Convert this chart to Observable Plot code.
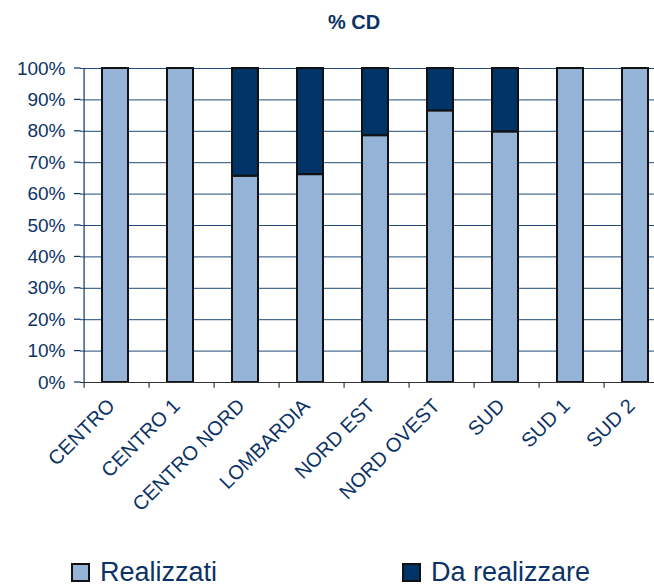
<!DOCTYPE html>
<html>
<head>
<meta charset="utf-8">
<script src="https://cdn.jsdelivr.net/npm/d3@7"></script>
<script src="https://cdn.jsdelivr.net/npm/@observablehq/plot@0.6"></script>
<style>
  html, body { margin: 0; padding: 0; background: #fff; }
  #wrap { position: relative; width: 654px; height: 586px; overflow: hidden; font-family: "Liberation Sans", Arial, sans-serif; color: #0b3366; }
  #title { position: absolute; left: 0; width: 708px; top: 11px; text-align: center; font-weight: bold; font-size: 20px; }
  #legend { position: absolute; top: 557px; left: 0; width: 654px; height: 31px; font-size: 27px; }
  .item { position: absolute; top: 0; display: flex; align-items: center; }
  .sw { width: 15px; height: 15px; border: 2px solid #111; margin-right: 10px; }
  #chart { position: absolute; left: 0; top: 0; }
</style>
</head>
<body>
<div id="wrap">
  <div id="chart"></div>
  <div id="title">% CD</div>
  <div id="legend"></div>
</div>
<script>
const categories = ["CENTRO", "CENTRO 1", "CENTRO NORD", "LOMBARDIA", "NORD EST", "NORD OVEST", "SUD", "SUD 1", "SUD 2"];
const realizzati = [100, 100, 65.7, 66.2, 78.6, 86.5, 79.8, 100, 100];
const daRealizzare = [0, 0, 34.3, 33.8, 21.4, 13.5, 20.2, 0, 0];
const seriesNames = ["Realizzati", "Da realizzare"];
const seriesColors = ["#95b3d7", "#003366"];
const yTicks = [0, 10, 20, 30, 40, 50, 60, 70, 80, 90, 100];

const navy = "#0b3366";
const rows = [];
categories.forEach((c, i) => {
  rows.push({cat: c, series: seriesNames[0], value: realizzati[i]});
  rows.push({cat: c, series: seriesNames[1], value: daRealizzare[i]});
});

const step = (671.4 - 79) / 9;

const chart = Plot.plot({
  width: 654,
  height: 540,
  marginLeft: 80,
  marginRight: 0,
  marginTop: 68,
  marginBottom: 158,
  style: {fontFamily: "'Liberation Sans', Arial, sans-serif", background: "transparent", overflow: "visible"},
  x: {domain: categories, range: [79, 671.4], paddingInner: 0.6, paddingOuter: 0.3, axis: null},
  y: {domain: [0, 100], axis: null},
  color: {domain: seriesNames, range: seriesColors},
  marks: [
    Plot.ruleY(yTicks, {stroke: "#1f4a7a", strokeWidth: 1}),
    Plot.barY(rows, Plot.stackY({x: "cat", y: "value", fill: "series", order: seriesNames, stroke: "#111", strokeWidth: 2})),
    Plot.ruleX([0], {x: () => categories[0], dx: -step / 2 + 1.5, y1: 0, y2: 100, stroke: navy, strokeWidth: 1.2}),
    Plot.ruleY([0], {stroke: "#333", strokeWidth: 1.2}),
    Plot.ruleX(categories, {x: d => d, dx: -step / 2 + 1.5, y1: 0, y2: -1.8, stroke: "#333", strokeWidth: 1.2}),
    Plot.text(yTicks, {y: d => d, frameAnchor: "left", dx: -15, text: d => d + "%", textAnchor: "end", fontSize: 19, fill: navy}),
    Plot.text(categories, {x: d => d, y: 0, text: d => d, rotate: -45, textAnchor: "end", dx: -4, dy: 20, fontSize: 20, fill: navy})
  ]
});
document.getElementById("chart").appendChild(chart);

// y axis small ticks to the left of axis line
const svg = d3.select(chart);
const yScale = chart.scale("y");
svg.append("g").selectAll("line").data(yTicks).join("line")
  .attr("x1", 74).attr("x2", 80.5)
  .attr("y1", d => yScale.apply(d)).attr("y2", d => yScale.apply(d))
  .attr("stroke", navy).attr("stroke-width", 1.2);

const legend = document.getElementById("legend");
const lefts = [71, 402];
seriesNames.forEach((s, i) => {
  const it = document.createElement("div");
  it.className = "item";
  it.style.left = lefts[i] + "px";
  const sw = document.createElement("div");
  sw.className = "sw";
  sw.style.background = seriesColors[i];
  const t = document.createElement("span");
  t.textContent = s;
  it.appendChild(sw);
  it.appendChild(t);
  legend.appendChild(it);
});
</script>
</body>
</html>
